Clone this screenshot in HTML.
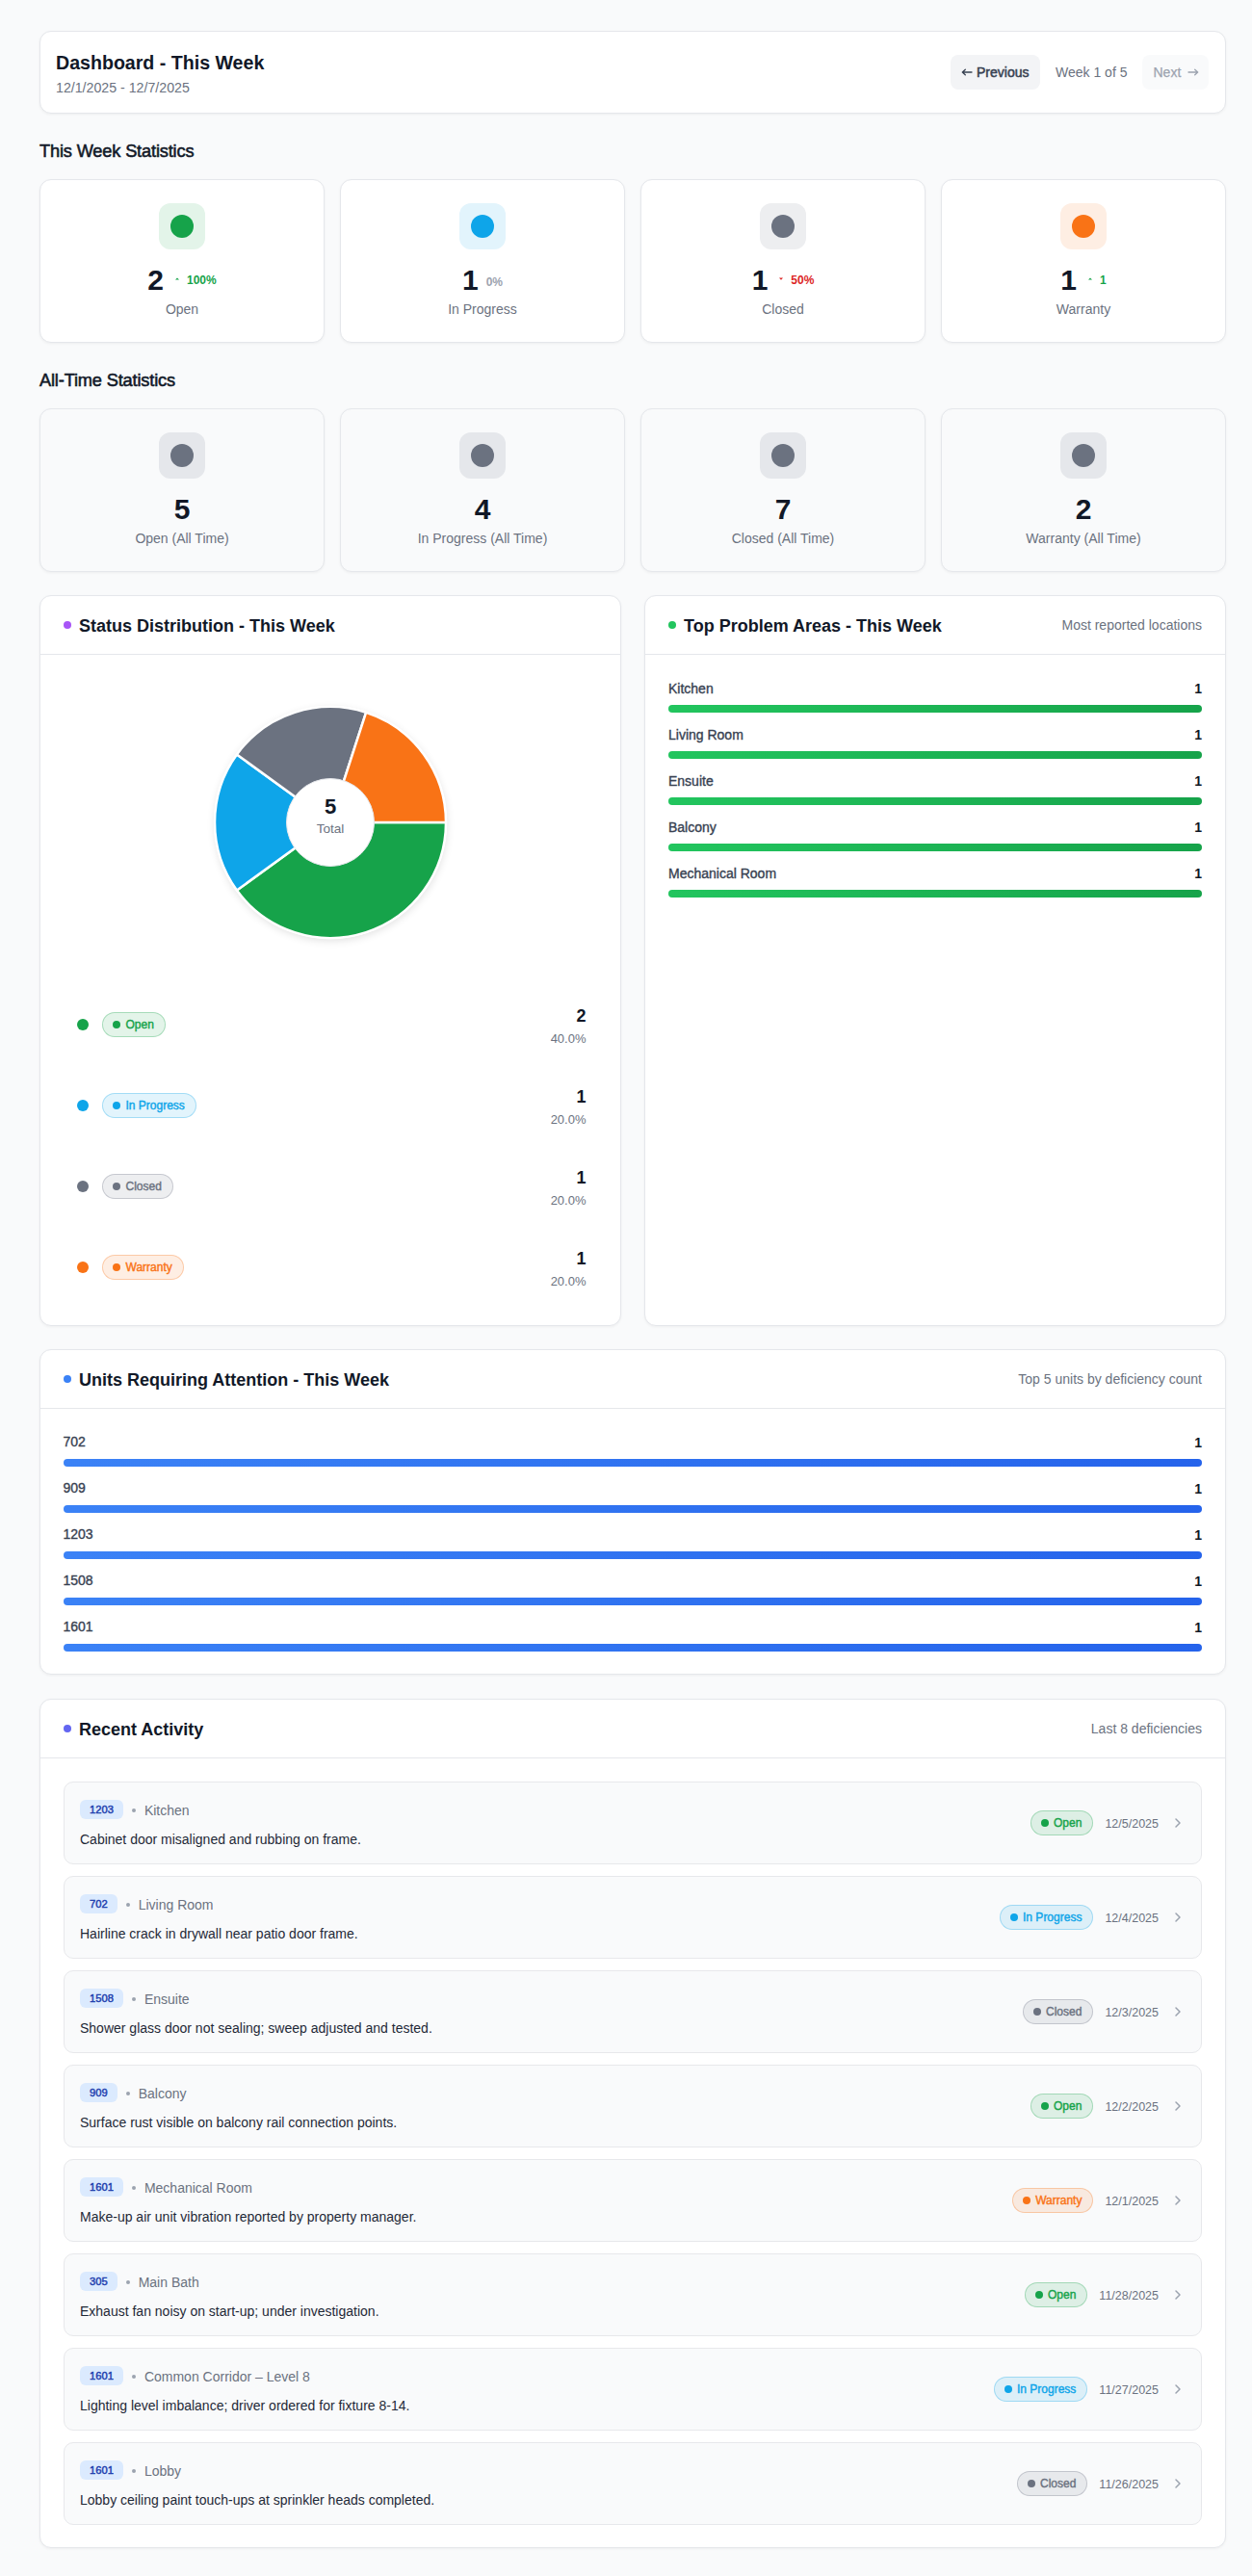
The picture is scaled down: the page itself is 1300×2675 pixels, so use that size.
<!DOCTYPE html>
<html><head><meta charset="utf-8"><title>Dashboard</title>
<style>
html,body{margin:0;padding:0;}
body{width:1300px;height:2675px;position:relative;overflow:hidden;background:#f9fafb;font-family:"Liberation Sans", sans-serif;}
.abs{position:absolute;}
.t{position:absolute;white-space:nowrap;}
.card{position:absolute;box-sizing:border-box;background:#fff;border:1px solid #e5e7eb;border-radius:12px;box-shadow:0 1px 3px rgba(0,0,0,0.05);}
.badge{display:inline-flex;align-items:center;box-sizing:border-box;height:26px;padding:0 11px 0 10px;border:1px solid;border-radius:13px;font-size:12px;font-weight:400;-webkit-text-stroke:0.4px currentColor;white-space:nowrap;}
.badge i{display:inline-block;width:8px;height:8px;border-radius:50%;margin-right:5.5px;}
.bar{height:8px;border-radius:4px;}
.bar.g{background:linear-gradient(90deg,#22c55e,#16a34a);}
.bar.b{background:linear-gradient(90deg,#3b82f6,#2563eb);}
.row{position:absolute;left:66px;width:1182px;height:86px;box-sizing:border-box;background:#f9fafb;border:1px solid #e7e8eb;border-radius:10px;display:flex;align-items:center;justify-content:space-between;}
.rl{position:absolute;left:16px;top:18.5px;}
.meta{display:flex;align-items:center;height:20px;}
.unit{display:inline-block;position:relative;top:-0.5px;height:20px;line-height:20px;padding:0 10px;border-radius:6px;background:#dbeafe;color:#1e40af;font-size:11.2px;font-weight:400;-webkit-text-stroke:0.45px #1e40af;}
.sep{display:inline-block;width:4px;height:4px;border-radius:50%;background:#9ca3af;margin:1px 9px 0 9px;}
.loc{font-size:14px;color:#6b7280;line-height:20px;}
.desc{font-size:14px;color:#1f2937;line-height:20px;margin-top:10px;}
.rr{position:absolute;right:16px;top:0;height:84px;display:flex;align-items:center;}
.date{font-size:12.5px;color:#6b7280;margin:0 12px 0 12px;position:relative;top:0.5px;}
</style></head><body>
<div class="card" style="left:41px;top:32px;width:1232px;height:86px;"></div>
<div class="t" style="top:53.01px;font-size:19.6px;line-height:24px;font-weight:700;color:#111827;left:58px;">Dashboard - This Week</div>
<div class="t" style="top:83.18px;font-size:14.2px;line-height:17px;font-weight:400;color:#6b7280;left:58px;">12/1/2025 - 12/7/2025</div>
<div class="abs" style="left:987px;top:57px;width:93px;height:36px;background:#f3f4f6;border-radius:8px;"></div>
<svg class="abs" style="left:998px;top:70px;" width="12" height="10" viewBox="0 0 12 10"><path d="M11 5 H1.5 M4.3 2.3 L1.3 5 L4.3 7.7" fill="none" stroke="#374151" stroke-width="1.3" stroke-linecap="round" stroke-linejoin="round"/></svg>
<div class="t" style="top:66.95px;font-size:14px;line-height:17px;font-weight:400;color:#374151;left:1014px;-webkit-text-stroke:0.5px #374151;">Previous</div>
<div class="t" style="top:66.95px;font-size:14px;line-height:17px;font-weight:400;color:#6b7280;left:1096px;">Week 1 of 5</div>
<div class="abs" style="left:1186px;top:57px;width:69px;height:36px;background:#f9fafb;border-radius:8px;"></div>
<div class="t" style="top:66.95px;font-size:14px;line-height:17px;font-weight:400;color:#9ca3af;left:1197.5px;-webkit-text-stroke:0.25px #9ca3af;">Next</div>
<svg class="abs" style="left:1233px;top:70px;" width="12" height="10" viewBox="0 0 12 10"><path d="M1 5 H10.5 M7.7 2.3 L10.7 5 L7.7 7.7" fill="none" stroke="#9ca3af" stroke-width="1.3" stroke-linecap="round" stroke-linejoin="round"/></svg>
<div class="t" style="top:146.29px;font-size:18.2px;line-height:22px;font-weight:400;color:#111827;left:41px;letter-spacing:-0.15px;-webkit-text-stroke:0.55px #111827;">This Week Statistics</div>
<div class="card" style="left:41px;top:186px;width:296px;height:170px;background:#ffffff;"></div>
<div class="abs" style="left:165px;top:211px;width:48px;height:48px;border-radius:12px;background:rgba(22,163,74,0.12);"></div>
<div class="abs" style="left:177px;top:223px;width:24px;height:24px;border-radius:50%;background:#16a34a;"></div>
<div class="t" style="left:41px;width:296px;text-align:center;top:274.41px;line-height:34px;"><span style="font-size:30px;font-weight:700;color:#111827;">2</span><span style="display:inline-flex;align-items:center;margin-left:8px;font-size:12px;font-weight:700;color:#16a34a;position:relative;top:-4px;"><svg width="12" height="12" viewBox="0 0 12 12" style="margin-right:4px;"><path d="M4 5.6 L6 3.4 L8 5.6 Z" fill="#16a34a"/></svg>100%</span></div>
<div class="t" style="top:312.65px;font-size:14px;line-height:17px;font-weight:400;color:#6b7280;left:-11px;width:400px;text-align:center;">Open</div>
<div class="card" style="left:353px;top:186px;width:296px;height:170px;background:#ffffff;"></div>
<div class="abs" style="left:477px;top:211px;width:48px;height:48px;border-radius:12px;background:rgba(14,165,233,0.12);"></div>
<div class="abs" style="left:489px;top:223px;width:24px;height:24px;border-radius:50%;background:#0ea5e9;"></div>
<div class="t" style="left:353px;width:296px;text-align:center;top:274.41px;line-height:34px;"><span style="font-size:30px;font-weight:700;color:#111827;">1</span><span style="display:inline-flex;align-items:center;margin-left:8px;font-size:12px;font-weight:700;color:#9ca3af;position:relative;top:-4px;">0%</span></div>
<div class="t" style="top:312.65px;font-size:14px;line-height:17px;font-weight:400;color:#6b7280;left:301px;width:400px;text-align:center;">In Progress</div>
<div class="card" style="left:665px;top:186px;width:296px;height:170px;background:#ffffff;"></div>
<div class="abs" style="left:789px;top:211px;width:48px;height:48px;border-radius:12px;background:rgba(107,114,128,0.12);"></div>
<div class="abs" style="left:801px;top:223px;width:24px;height:24px;border-radius:50%;background:#6b7280;"></div>
<div class="t" style="left:665px;width:296px;text-align:center;top:274.41px;line-height:34px;"><span style="font-size:30px;font-weight:700;color:#111827;">1</span><span style="display:inline-flex;align-items:center;margin-left:8px;font-size:12px;font-weight:700;color:#dc2626;position:relative;top:-4px;"><svg width="12" height="12" viewBox="0 0 12 12" style="margin-right:4px;"><path d="M4 3.6 L6 5.8 L8 3.6 Z" fill="#dc2626"/></svg>50%</span></div>
<div class="t" style="top:312.65px;font-size:14px;line-height:17px;font-weight:400;color:#6b7280;left:613px;width:400px;text-align:center;">Closed</div>
<div class="card" style="left:977px;top:186px;width:296px;height:170px;background:#ffffff;"></div>
<div class="abs" style="left:1101px;top:211px;width:48px;height:48px;border-radius:12px;background:rgba(249,115,22,0.12);"></div>
<div class="abs" style="left:1113px;top:223px;width:24px;height:24px;border-radius:50%;background:#f97316;"></div>
<div class="t" style="left:977px;width:296px;text-align:center;top:274.41px;line-height:34px;"><span style="font-size:30px;font-weight:700;color:#111827;">1</span><span style="display:inline-flex;align-items:center;margin-left:8px;font-size:12px;font-weight:700;color:#16a34a;position:relative;top:-4px;"><svg width="12" height="12" viewBox="0 0 12 12" style="margin-right:4px;"><path d="M4 5.6 L6 3.4 L8 5.6 Z" fill="#16a34a"/></svg>1</span></div>
<div class="t" style="top:312.65px;font-size:14px;line-height:17px;font-weight:400;color:#6b7280;left:925px;width:400px;text-align:center;">Warranty</div>
<div class="t" style="top:384.19px;font-size:18.2px;line-height:22px;font-weight:400;color:#111827;left:41px;letter-spacing:-0.15px;-webkit-text-stroke:0.55px #111827;">All-Time Statistics</div>
<div class="card" style="left:41px;top:424px;width:296px;height:170px;background:#f9fafb;"></div>
<div class="abs" style="left:165px;top:449px;width:48px;height:48px;border-radius:12px;background:#e5e7eb;"></div>
<div class="abs" style="left:177px;top:461px;width:24px;height:24px;border-radius:50%;background:#6b7280;"></div>
<div class="t" style="left:41px;width:296px;text-align:center;top:512.40px;line-height:34px;"><span style="font-size:30px;font-weight:700;color:#111827;">5</span></div>
<div class="t" style="top:550.65px;font-size:14px;line-height:17px;font-weight:400;color:#6b7280;left:-11px;width:400px;text-align:center;">Open (All Time)</div>
<div class="card" style="left:353px;top:424px;width:296px;height:170px;background:#f9fafb;"></div>
<div class="abs" style="left:477px;top:449px;width:48px;height:48px;border-radius:12px;background:#e5e7eb;"></div>
<div class="abs" style="left:489px;top:461px;width:24px;height:24px;border-radius:50%;background:#6b7280;"></div>
<div class="t" style="left:353px;width:296px;text-align:center;top:512.40px;line-height:34px;"><span style="font-size:30px;font-weight:700;color:#111827;">4</span></div>
<div class="t" style="top:550.65px;font-size:14px;line-height:17px;font-weight:400;color:#6b7280;left:301px;width:400px;text-align:center;">In Progress (All Time)</div>
<div class="card" style="left:665px;top:424px;width:296px;height:170px;background:#f9fafb;"></div>
<div class="abs" style="left:789px;top:449px;width:48px;height:48px;border-radius:12px;background:#e5e7eb;"></div>
<div class="abs" style="left:801px;top:461px;width:24px;height:24px;border-radius:50%;background:#6b7280;"></div>
<div class="t" style="left:665px;width:296px;text-align:center;top:512.40px;line-height:34px;"><span style="font-size:30px;font-weight:700;color:#111827;">7</span></div>
<div class="t" style="top:550.65px;font-size:14px;line-height:17px;font-weight:400;color:#6b7280;left:613px;width:400px;text-align:center;">Closed (All Time)</div>
<div class="card" style="left:977px;top:424px;width:296px;height:170px;background:#f9fafb;"></div>
<div class="abs" style="left:1101px;top:449px;width:48px;height:48px;border-radius:12px;background:#e5e7eb;"></div>
<div class="abs" style="left:1113px;top:461px;width:24px;height:24px;border-radius:50%;background:#6b7280;"></div>
<div class="t" style="left:977px;width:296px;text-align:center;top:512.40px;line-height:34px;"><span style="font-size:30px;font-weight:700;color:#111827;">2</span></div>
<div class="t" style="top:550.65px;font-size:14px;line-height:17px;font-weight:400;color:#6b7280;left:925px;width:400px;text-align:center;">Warranty (All Time)</div>
<div class="card" style="left:41px;top:618px;width:604px;height:759px;"></div>
<div class="abs" style="left:42px;top:679px;width:602px;height:1px;background:#e5e7eb;"></div>
<div class="abs" style="left:66px;top:644.7px;width:8px;height:8px;border-radius:50%;background:#a855f7;"></div>
<div class="t" style="top:638.76px;font-size:18px;line-height:22px;font-weight:700;color:#111827;left:82px;">Status Distribution - This Week</div>
<div class="card" style="left:669px;top:618px;width:604px;height:759px;"></div>
<div class="abs" style="left:670px;top:679px;width:602px;height:1px;background:#e5e7eb;"></div>
<div class="abs" style="left:694px;top:644.7px;width:8px;height:8px;border-radius:50%;background:#22c55e;"></div>
<div class="t" style="top:638.76px;font-size:18px;line-height:22px;font-weight:700;color:#111827;left:710px;">Top Problem Areas - This Week</div>
<div class="t" style="top:641.15px;font-size:14px;line-height:17px;font-weight:400;color:#6b7280;right:52px;">Most reported locations</div>
<div class="abs" style="left:222.5px;top:733.0px;width:241px;height:241px;border-radius:50%;box-shadow:0 3px 8px rgba(0,0,0,0.12);"></div>
<svg class="abs" style="left:218px;top:728.5px;overflow:visible" width="250" height="250" viewBox="-125 -125 250 250"><circle cx="0" cy="0" r="121" fill="#fff"/><path d="M0 0 L120.000 0.000 A120 120 0 0 1 -97.082 70.534 Z" fill="#16a34a" stroke="#fff" stroke-width="2.5" stroke-linejoin="round"/><path d="M0 0 L-97.082 70.534 A120 120 0 0 1 -97.082 -70.534 Z" fill="#0ea5e9" stroke="#fff" stroke-width="2.5" stroke-linejoin="round"/><path d="M0 0 L-97.082 -70.534 A120 120 0 0 1 37.082 -114.127 Z" fill="#6b7280" stroke="#fff" stroke-width="2.5" stroke-linejoin="round"/><path d="M0 0 L37.082 -114.127 A120 120 0 0 1 120.000 -0.000 Z" fill="#f97316" stroke="#fff" stroke-width="2.5" stroke-linejoin="round"/><circle cx="0" cy="0" r="45.5" fill="#fff" stroke="#e5e7eb" stroke-width="1"/></svg>
<div class="t" style="top:824.98px;font-size:22px;line-height:26px;font-weight:700;color:#111827;left:143px;width:400px;text-align:center;">5</div>
<div class="t" style="top:852.89px;font-size:13.6px;line-height:16px;font-weight:400;color:#6b7280;left:143px;width:400px;text-align:center;">Total</div>
<div class="abs" style="left:80px;top:1058px;width:12px;height:12px;border-radius:50%;background:#16a34a;"></div>
<div class="abs" style="left:106px;top:1051px;height:26px;display:flex;"><span class="badge" style="background:rgba(22,163,74,0.12);border-color:rgba(22,163,74,0.3);color:#16a34a;"><i style="background:#16a34a;"></i>Open</span></div>
<div class="t" style="top:1044.16px;font-size:18px;line-height:22px;font-weight:700;color:#111827;right:691.5px;">2</div>
<div class="t" style="top:1070.50px;font-size:13px;line-height:16px;font-weight:400;color:#6b7280;right:691.5px;">40.0%</div>
<div class="abs" style="left:80px;top:1142px;width:12px;height:12px;border-radius:50%;background:#0ea5e9;"></div>
<div class="abs" style="left:106px;top:1135px;height:26px;display:flex;"><span class="badge" style="background:rgba(14,165,233,0.12);border-color:rgba(14,165,233,0.3);color:#0ea5e9;"><i style="background:#0ea5e9;"></i>In Progress</span></div>
<div class="t" style="top:1128.16px;font-size:18px;line-height:22px;font-weight:700;color:#111827;right:691.5px;">1</div>
<div class="t" style="top:1154.50px;font-size:13px;line-height:16px;font-weight:400;color:#6b7280;right:691.5px;">20.0%</div>
<div class="abs" style="left:80px;top:1226px;width:12px;height:12px;border-radius:50%;background:#6b7280;"></div>
<div class="abs" style="left:106px;top:1219px;height:26px;display:flex;"><span class="badge" style="background:rgba(107,114,128,0.12);border-color:rgba(107,114,128,0.3);color:#6b7280;"><i style="background:#6b7280;"></i>Closed</span></div>
<div class="t" style="top:1212.16px;font-size:18px;line-height:22px;font-weight:700;color:#111827;right:691.5px;">1</div>
<div class="t" style="top:1238.50px;font-size:13px;line-height:16px;font-weight:400;color:#6b7280;right:691.5px;">20.0%</div>
<div class="abs" style="left:80px;top:1310px;width:12px;height:12px;border-radius:50%;background:#f97316;"></div>
<div class="abs" style="left:106px;top:1303px;height:26px;display:flex;"><span class="badge" style="background:rgba(249,115,22,0.12);border-color:rgba(249,115,22,0.3);color:#f97316;"><i style="background:#f97316;"></i>Warranty</span></div>
<div class="t" style="top:1296.16px;font-size:18px;line-height:22px;font-weight:700;color:#111827;right:691.5px;">1</div>
<div class="t" style="top:1322.50px;font-size:13px;line-height:16px;font-weight:400;color:#6b7280;right:691.5px;">20.0%</div>
<div class="t" style="top:706.65px;font-size:14px;line-height:17px;font-weight:400;color:#374151;left:694px;-webkit-text-stroke:0.35px #374151;">Kitchen</div>
<div class="t" style="top:706.65px;font-size:14px;line-height:17px;font-weight:700;color:#111827;right:52px;">1</div>
<div class="abs bar g" style="left:694px;top:732px;width:554px;"></div>
<div class="t" style="top:754.65px;font-size:14px;line-height:17px;font-weight:400;color:#374151;left:694px;-webkit-text-stroke:0.35px #374151;">Living Room</div>
<div class="t" style="top:754.65px;font-size:14px;line-height:17px;font-weight:700;color:#111827;right:52px;">1</div>
<div class="abs bar g" style="left:694px;top:780px;width:554px;"></div>
<div class="t" style="top:802.65px;font-size:14px;line-height:17px;font-weight:400;color:#374151;left:694px;-webkit-text-stroke:0.35px #374151;">Ensuite</div>
<div class="t" style="top:802.65px;font-size:14px;line-height:17px;font-weight:700;color:#111827;right:52px;">1</div>
<div class="abs bar g" style="left:694px;top:828px;width:554px;"></div>
<div class="t" style="top:850.65px;font-size:14px;line-height:17px;font-weight:400;color:#374151;left:694px;-webkit-text-stroke:0.35px #374151;">Balcony</div>
<div class="t" style="top:850.65px;font-size:14px;line-height:17px;font-weight:700;color:#111827;right:52px;">1</div>
<div class="abs bar g" style="left:694px;top:876px;width:554px;"></div>
<div class="t" style="top:898.65px;font-size:14px;line-height:17px;font-weight:400;color:#374151;left:694px;-webkit-text-stroke:0.35px #374151;">Mechanical Room</div>
<div class="t" style="top:898.65px;font-size:14px;line-height:17px;font-weight:700;color:#111827;right:52px;">1</div>
<div class="abs bar g" style="left:694px;top:924px;width:554px;"></div>
<div class="card" style="left:41px;top:1401px;width:1232px;height:338px;"></div>
<div class="abs" style="left:42px;top:1462px;width:1230px;height:1px;background:#e5e7eb;"></div>
<div class="abs" style="left:66px;top:1427.7px;width:8px;height:8px;border-radius:50%;background:#3b82f6;"></div>
<div class="t" style="top:1421.76px;font-size:18px;line-height:22px;font-weight:700;color:#111827;left:82px;">Units Requiring Attention - This Week</div>
<div class="t" style="top:1424.15px;font-size:14px;line-height:17px;font-weight:400;color:#6b7280;right:52px;">Top 5 units by deficiency count</div>
<div class="t" style="top:1489.15px;font-size:14px;line-height:17px;font-weight:400;color:#374151;left:65.5px;-webkit-text-stroke:0.35px #374151;">702</div>
<div class="t" style="top:1489.65px;font-size:14px;line-height:17px;font-weight:700;color:#111827;right:52px;">1</div>
<div class="abs bar b" style="left:66px;top:1515px;width:1182px;"></div>
<div class="t" style="top:1537.15px;font-size:14px;line-height:17px;font-weight:400;color:#374151;left:65.5px;-webkit-text-stroke:0.35px #374151;">909</div>
<div class="t" style="top:1537.65px;font-size:14px;line-height:17px;font-weight:700;color:#111827;right:52px;">1</div>
<div class="abs bar b" style="left:66px;top:1563px;width:1182px;"></div>
<div class="t" style="top:1585.15px;font-size:14px;line-height:17px;font-weight:400;color:#374151;left:65.5px;-webkit-text-stroke:0.35px #374151;">1203</div>
<div class="t" style="top:1585.65px;font-size:14px;line-height:17px;font-weight:700;color:#111827;right:52px;">1</div>
<div class="abs bar b" style="left:66px;top:1611px;width:1182px;"></div>
<div class="t" style="top:1633.15px;font-size:14px;line-height:17px;font-weight:400;color:#374151;left:65.5px;-webkit-text-stroke:0.35px #374151;">1508</div>
<div class="t" style="top:1633.65px;font-size:14px;line-height:17px;font-weight:700;color:#111827;right:52px;">1</div>
<div class="abs bar b" style="left:66px;top:1659px;width:1182px;"></div>
<div class="t" style="top:1681.15px;font-size:14px;line-height:17px;font-weight:400;color:#374151;left:65.5px;-webkit-text-stroke:0.35px #374151;">1601</div>
<div class="t" style="top:1681.65px;font-size:14px;line-height:17px;font-weight:700;color:#111827;right:52px;">1</div>
<div class="abs bar b" style="left:66px;top:1707px;width:1182px;"></div>
<div class="card" style="left:41px;top:1764px;width:1232px;height:882px;"></div>
<div class="abs" style="left:42px;top:1825px;width:1230px;height:1px;background:#e5e7eb;"></div>
<div class="abs" style="left:66px;top:1790.7px;width:8px;height:8px;border-radius:50%;background:#6366f1;"></div>
<div class="t" style="top:1784.76px;font-size:18px;line-height:22px;font-weight:700;color:#111827;left:82px;">Recent Activity</div>
<div class="t" style="top:1787.15px;font-size:14px;line-height:17px;font-weight:400;color:#6b7280;right:52px;">Last 8 deficiencies</div>
<div class="row" style="top:1850px;"><div class="rl"><div class="meta"><span class="unit">1203</span><span class="sep"></span><span class="loc">Kitchen</span></div><div class="desc">Cabinet door misaligned and rubbing on frame.</div></div><div class="rr"><span class="badge" style="background:rgba(22,163,74,0.12);border-color:rgba(22,163,74,0.3);color:#16a34a;"><i style="background:#16a34a;"></i>Open</span><span class="date">12/5/2025</span><svg width="16" height="16" viewBox="0 0 16 16"><path d="M6 4 L10 8 L6 12" fill="none" stroke="#9ca3af" stroke-width="1.5" stroke-linecap="round" stroke-linejoin="round"/></svg></div></div>
<div class="row" style="top:1948px;"><div class="rl"><div class="meta"><span class="unit">702</span><span class="sep"></span><span class="loc">Living Room</span></div><div class="desc">Hairline crack in drywall near patio door frame.</div></div><div class="rr"><span class="badge" style="background:rgba(14,165,233,0.12);border-color:rgba(14,165,233,0.3);color:#0ea5e9;"><i style="background:#0ea5e9;"></i>In Progress</span><span class="date">12/4/2025</span><svg width="16" height="16" viewBox="0 0 16 16"><path d="M6 4 L10 8 L6 12" fill="none" stroke="#9ca3af" stroke-width="1.5" stroke-linecap="round" stroke-linejoin="round"/></svg></div></div>
<div class="row" style="top:2046px;"><div class="rl"><div class="meta"><span class="unit">1508</span><span class="sep"></span><span class="loc">Ensuite</span></div><div class="desc">Shower glass door not sealing; sweep adjusted and tested.</div></div><div class="rr"><span class="badge" style="background:rgba(107,114,128,0.12);border-color:rgba(107,114,128,0.3);color:#6b7280;"><i style="background:#6b7280;"></i>Closed</span><span class="date">12/3/2025</span><svg width="16" height="16" viewBox="0 0 16 16"><path d="M6 4 L10 8 L6 12" fill="none" stroke="#9ca3af" stroke-width="1.5" stroke-linecap="round" stroke-linejoin="round"/></svg></div></div>
<div class="row" style="top:2144px;"><div class="rl"><div class="meta"><span class="unit">909</span><span class="sep"></span><span class="loc">Balcony</span></div><div class="desc">Surface rust visible on balcony rail connection points.</div></div><div class="rr"><span class="badge" style="background:rgba(22,163,74,0.12);border-color:rgba(22,163,74,0.3);color:#16a34a;"><i style="background:#16a34a;"></i>Open</span><span class="date">12/2/2025</span><svg width="16" height="16" viewBox="0 0 16 16"><path d="M6 4 L10 8 L6 12" fill="none" stroke="#9ca3af" stroke-width="1.5" stroke-linecap="round" stroke-linejoin="round"/></svg></div></div>
<div class="row" style="top:2242px;"><div class="rl"><div class="meta"><span class="unit">1601</span><span class="sep"></span><span class="loc">Mechanical Room</span></div><div class="desc">Make-up air unit vibration reported by property manager.</div></div><div class="rr"><span class="badge" style="background:rgba(249,115,22,0.12);border-color:rgba(249,115,22,0.3);color:#f97316;"><i style="background:#f97316;"></i>Warranty</span><span class="date">12/1/2025</span><svg width="16" height="16" viewBox="0 0 16 16"><path d="M6 4 L10 8 L6 12" fill="none" stroke="#9ca3af" stroke-width="1.5" stroke-linecap="round" stroke-linejoin="round"/></svg></div></div>
<div class="row" style="top:2340px;"><div class="rl"><div class="meta"><span class="unit">305</span><span class="sep"></span><span class="loc">Main Bath</span></div><div class="desc">Exhaust fan noisy on start-up; under investigation.</div></div><div class="rr"><span class="badge" style="background:rgba(22,163,74,0.12);border-color:rgba(22,163,74,0.3);color:#16a34a;"><i style="background:#16a34a;"></i>Open</span><span class="date">11/28/2025</span><svg width="16" height="16" viewBox="0 0 16 16"><path d="M6 4 L10 8 L6 12" fill="none" stroke="#9ca3af" stroke-width="1.5" stroke-linecap="round" stroke-linejoin="round"/></svg></div></div>
<div class="row" style="top:2438px;"><div class="rl"><div class="meta"><span class="unit">1601</span><span class="sep"></span><span class="loc">Common Corridor &ndash; Level 8</span></div><div class="desc">Lighting level imbalance; driver ordered for fixture 8-14.</div></div><div class="rr"><span class="badge" style="background:rgba(14,165,233,0.12);border-color:rgba(14,165,233,0.3);color:#0ea5e9;"><i style="background:#0ea5e9;"></i>In Progress</span><span class="date">11/27/2025</span><svg width="16" height="16" viewBox="0 0 16 16"><path d="M6 4 L10 8 L6 12" fill="none" stroke="#9ca3af" stroke-width="1.5" stroke-linecap="round" stroke-linejoin="round"/></svg></div></div>
<div class="row" style="top:2536px;"><div class="rl"><div class="meta"><span class="unit">1601</span><span class="sep"></span><span class="loc">Lobby</span></div><div class="desc">Lobby ceiling paint touch-ups at sprinkler heads completed.</div></div><div class="rr"><span class="badge" style="background:rgba(107,114,128,0.12);border-color:rgba(107,114,128,0.3);color:#6b7280;"><i style="background:#6b7280;"></i>Closed</span><span class="date">11/26/2025</span><svg width="16" height="16" viewBox="0 0 16 16"><path d="M6 4 L10 8 L6 12" fill="none" stroke="#9ca3af" stroke-width="1.5" stroke-linecap="round" stroke-linejoin="round"/></svg></div></div>
</body></html>
